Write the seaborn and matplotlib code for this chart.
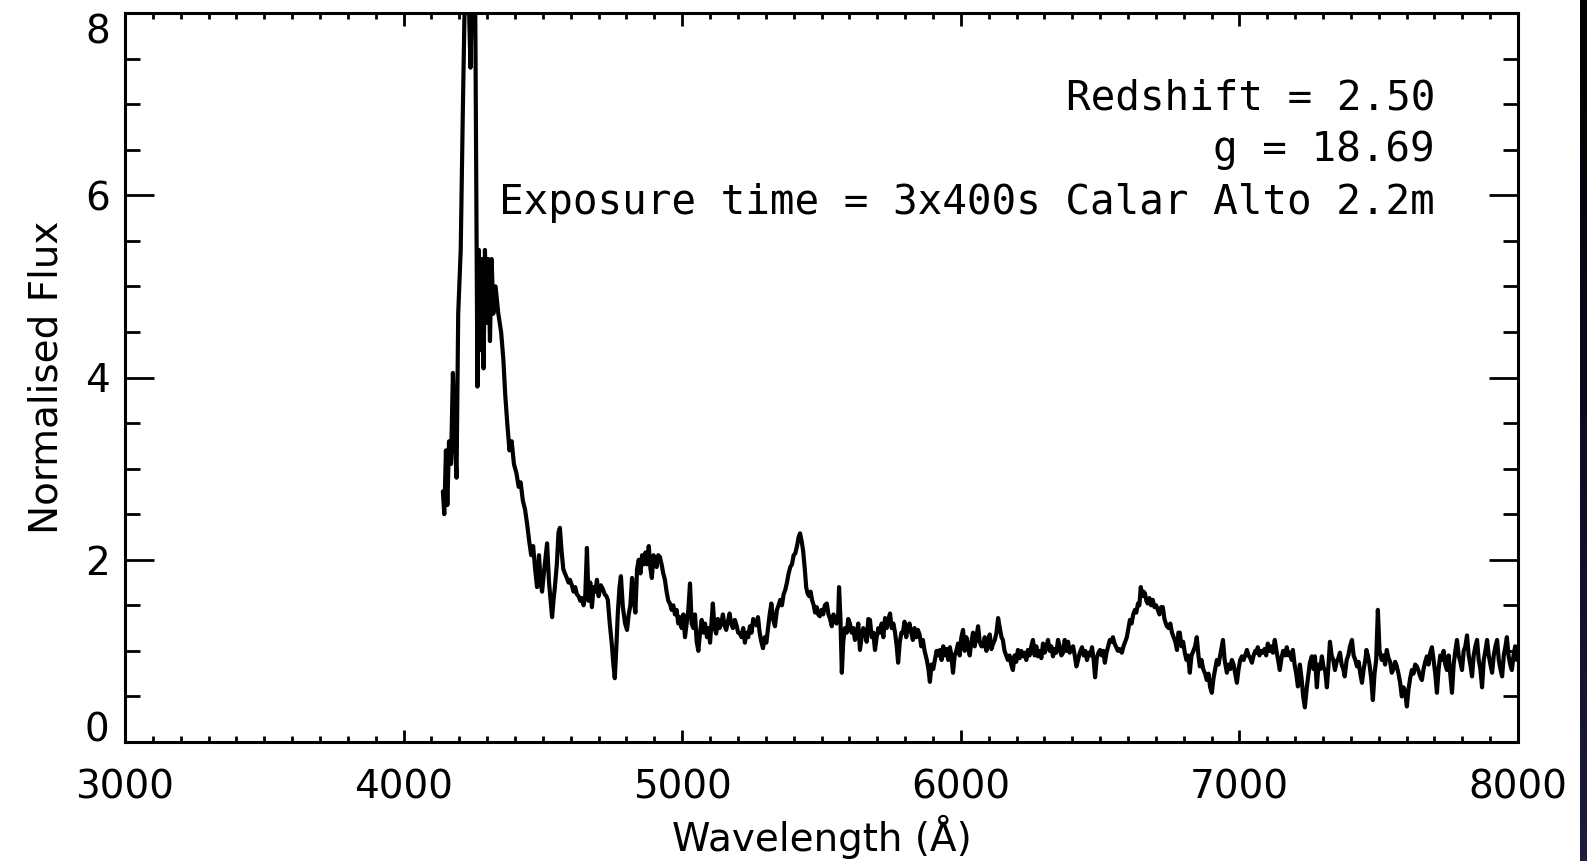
import numpy as np
import pandas as pd
import matplotlib
matplotlib.use("Agg")
import matplotlib.pyplot as plt
import seaborn as sns
from matplotlib.ticker import MultipleLocator, FixedLocator
from matplotlib.colors import LinearSegmentedColormap

# ---- Spectrum data (wavelength in Angstrom, normalised flux) ----
seg_lya = [
    (4141, 2.75), (4146, 2.50), (4152, 3.20), (4157, 2.60), (4163, 3.30), (4170, 3.05),
    (4177, 4.05), (4184, 3.30), (4190, 2.90), (4196, 4.70), (4205, 5.40), (4213, 7.00),
    (4222, 8.60), (4232, 8.40), (4240, 7.40), (4248, 8.50), (4256, 8.70), (4265, 3.90),
    (4270, 5.40), (4276, 4.30), (4281, 5.30), (4287, 4.10), (4292, 5.40), (4298, 4.60),
    (4304, 5.30), (4310, 4.40), (4316, 5.30), (4322, 4.70), (4330, 5.00), (4340, 4.70),
    (4350, 4.50), (4358, 4.20), (4365, 3.80), (4372, 3.50), (4380, 3.20), (4388, 3.30),
    (4396, 3.05), (4405, 2.95), (4413, 2.80), (4420, 2.85), (4428, 2.65), (4436, 2.55),
    (4443, 2.40), (4451, 2.20), (4458, 2.05), (4465, 2.15), (4472, 1.90), (4479, 1.70),
    (4486, 2.05), (4492, 1.75), (4497, 1.65),
]
seg_civ = [
    (4505, 1.90), (4515, 2.18), (4522, 1.75), (4528, 1.55), (4533, 1.37), (4538, 1.55),
    (4543, 1.70), (4550, 1.95), (4556, 2.30), (4561, 2.35), (4567, 2.10), (4573, 1.90),
    (4579, 1.85), (4586, 1.80), (4592, 1.75), (4597, 1.78), (4604, 1.72), (4610, 1.65),
    (4616, 1.70), (4622, 1.62), (4628, 1.60), (4634, 1.55), (4640, 1.58), (4646, 1.50),
    (4652, 1.60), (4658, 2.13), (4664, 1.55), (4670, 1.75), (4676, 1.48), (4682, 1.70),
    (4688, 1.65), (4694, 1.78), (4700, 1.60), (4708, 1.72), (4715, 1.68), (4722, 1.62),
    (4728, 1.60), (4733, 1.56), (4740, 1.30), (4748, 1.05), (4753, 0.85), (4758, 0.70),
    (4763, 1.00), (4769, 1.42), (4775, 1.70), (4780, 1.82), (4787, 1.48), (4795, 1.30),
    (4802, 1.23), (4808, 1.40), (4814, 1.50), (4820, 1.80), (4826, 1.55), (4832, 1.42),
    (4838, 1.90), (4844, 2.00), (4850, 1.85), (4856, 2.05), (4862, 1.95), (4868, 2.08),
    (4874, 1.95), (4880, 2.15), (4886, 1.90), (4891, 1.80), (4897, 2.05), (4902, 2.00),
    (4908, 1.92), (4914, 2.05), (4920, 2.03), (4926, 1.95), (4932, 1.85), (4938, 1.78),
    (4944, 1.65), (4950, 1.55), (4956, 1.52), (4962, 1.45), (4968, 1.50), (4974, 1.40),
    (4980, 1.45), (4986, 1.30), (4992, 1.37), (4998, 1.25),
]
seg_ciii = [
    (5004, 1.40), (5010, 1.15), (5016, 1.30), (5022, 1.45), (5028, 1.74), (5034, 1.30),
    (5040, 1.25), (5046, 1.40), (5052, 1.10), (5058, 1.00), (5064, 1.20), (5070, 1.34),
    (5076, 1.20), (5082, 1.30), (5089, 1.15), (5095, 1.25), (5100, 1.09), (5105, 1.30),
    (5110, 1.52), (5116, 1.25), (5122, 1.19), (5128, 1.35), (5134, 1.25), (5140, 1.30),
    (5146, 1.40), (5152, 1.28), (5158, 1.23), (5164, 1.32), (5170, 1.41), (5176, 1.30),
    (5182, 1.25), (5189, 1.34), (5195, 1.28), (5201, 1.20), (5207, 1.19), (5213, 1.15),
    (5219, 1.25), (5225, 1.09), (5231, 1.20), (5237, 1.15), (5243, 1.27), (5249, 1.20),
    (5255, 1.35), (5261, 1.30), (5267, 1.28), (5272, 1.37), (5278, 1.20), (5284, 1.10),
    (5290, 1.03), (5296, 1.15), (5302, 1.09), (5308, 1.25), (5314, 1.40), (5320, 1.52),
    (5326, 1.35), (5333, 1.27), (5340, 1.45), (5346, 1.50), (5352, 1.56), (5358, 1.50),
    (5364, 1.62), (5370, 1.67), (5376, 1.75), (5382, 1.85), (5388, 1.92), (5394, 1.95),
    (5400, 2.05), (5406, 2.07), (5412, 2.15), (5418, 2.25), (5423, 2.29), (5429, 2.20),
    (5434, 2.10), (5440, 1.90), (5445, 1.70), (5450, 1.63), (5456, 1.60), (5461, 1.65),
    (5466, 1.56), (5472, 1.50), (5477, 1.42), (5483, 1.48), (5488, 1.40), (5494, 1.38),
]
seg_mid = [
    (5500, 1.45), (5506, 1.40), (5512, 1.50), (5519, 1.52), (5525, 1.40), (5531, 1.35),
    (5537, 1.27), (5543, 1.40), (5548, 1.34), (5554, 1.30), (5560, 1.40), (5563, 1.70),
    (5568, 1.35), (5573, 0.76), (5578, 1.10), (5584, 1.25), (5591, 1.20), (5596, 1.35),
    (5602, 1.30), (5608, 1.20), (5614, 1.25), (5620, 1.12), (5626, 1.20), (5632, 1.30),
    (5638, 1.01), (5644, 1.15), (5650, 1.25), (5656, 1.20), (5662, 1.10), (5668, 1.35),
    (5674, 1.34), (5680, 1.15), (5686, 1.20), (5692, 1.01), (5698, 1.15), (5704, 1.25),
    (5710, 1.20), (5716, 1.30), (5722, 1.15), (5728, 1.36), (5734, 1.25), (5740, 1.35),
    (5746, 1.41), (5752, 1.25), (5758, 1.30), (5764, 1.20), (5770, 1.05), (5775, 0.87),
    (5781, 1.10), (5787, 1.20), (5792, 1.20), (5798, 1.32), (5804, 1.15), (5810, 1.27),
    (5816, 1.30), (5822, 1.20), (5828, 1.12), (5834, 1.25), (5840, 1.15), (5846, 1.23),
    (5852, 1.18), (5858, 1.05), (5864, 1.12), (5870, 1.00), (5878, 0.90), (5884, 0.80),
    (5889, 0.66), (5895, 0.85), (5901, 0.80), (5907, 0.90), (5913, 1.00), (5919, 0.95),
    (5925, 1.01), (5931, 0.90), (5937, 1.05), (5943, 0.95), (5949, 1.02), (5955, 0.90),
    (5961, 1.04), (5966, 0.95), (5972, 0.76), (5978, 0.95), (5984, 1.00), (5990, 1.08),
    (5996, 0.95),
]
seg_cont = [
    (6002, 1.15), (6008, 1.23), (6014, 1.00), (6020, 1.15), (6026, 1.05), (6032, 0.95),
    (6038, 1.10), (6044, 1.20), (6050, 1.05), (6056, 1.15), (6062, 1.27), (6068, 1.10),
    (6074, 1.05), (6080, 1.05), (6086, 1.15), (6092, 1.00), (6098, 1.12), (6104, 1.18),
    (6110, 1.02), (6116, 1.08), (6122, 1.12), (6128, 1.20), (6134, 1.36), (6140, 1.25),
    (6146, 1.15), (6151, 1.12), (6157, 1.00), (6163, 0.95), (6169, 0.90), (6175, 0.95),
    (6181, 0.85), (6187, 0.79), (6193, 0.95), (6199, 0.88), (6205, 1.01), (6211, 0.92),
    (6217, 1.00), (6223, 0.94), (6229, 0.98), (6235, 0.90), (6241, 1.01), (6247, 0.95),
    (6253, 1.05), (6259, 1.12), (6265, 0.95), (6271, 1.05), (6277, 0.94), (6283, 1.00),
    (6289, 0.92), (6295, 1.08), (6301, 0.98), (6307, 1.05), (6313, 1.12), (6319, 1.00),
    (6325, 1.05), (6331, 0.94), (6337, 1.02), (6343, 0.98), (6349, 1.12), (6355, 1.05),
    (6361, 0.95), (6367, 0.98), (6373, 1.12), (6379, 1.00), (6385, 1.10), (6391, 0.98),
    (6397, 1.02), (6403, 1.05), (6409, 0.95), (6415, 0.83), (6421, 0.90), (6427, 0.98),
    (6435, 1.04), (6441, 0.95), (6447, 1.00), (6453, 0.90), (6459, 0.98), (6465, 0.95),
    (6471, 1.04), (6477, 0.90), (6482, 0.71), (6488, 0.92), (6494, 0.98),
]
seg_mgii = [
    (6500, 1.01), (6506, 0.95), (6512, 1.00), (6517, 0.87), (6523, 0.98), (6529, 1.05),
    (6535, 1.12), (6541, 1.10), (6546, 1.15), (6552, 1.08), (6558, 1.04), (6564, 1.00),
    (6570, 1.02), (6578, 0.98), (6584, 1.05), (6590, 1.10), (6596, 1.15), (6602, 1.25),
    (6607, 1.34), (6613, 1.30), (6619, 1.40), (6625, 1.45), (6630, 1.42), (6636, 1.52),
    (6641, 1.50), (6646, 1.70), (6651, 1.60), (6656, 1.65), (6661, 1.63), (6666, 1.55),
    (6671, 1.52), (6677, 1.58), (6683, 1.50), (6689, 1.56), (6695, 1.48), (6701, 1.50),
    (6707, 1.45), (6713, 1.40), (6719, 1.48), (6725, 1.48), (6731, 1.35), (6736, 1.30),
    (6740, 1.27), (6746, 1.25), (6752, 1.30), (6758, 1.20), (6764, 1.15), (6770, 1.10),
    (6776, 1.01), (6781, 1.20), (6786, 1.20), (6792, 1.05), (6798, 1.10), (6804, 0.98),
    (6810, 0.90), (6816, 0.95), (6822, 0.76), (6828, 0.95), (6835, 1.00), (6841, 1.05),
    (6847, 1.15), (6853, 0.95), (6858, 0.83), (6864, 0.90), (6870, 0.80), (6877, 0.75),
    (6883, 0.68), (6889, 0.75), (6895, 0.60), (6901, 0.54), (6907, 0.70), (6913, 0.80),
    (6919, 0.90), (6925, 0.85), (6931, 0.95), (6937, 1.05), (6941, 1.12), (6947, 0.90),
    (6955, 0.76), (6961, 0.85), (6967, 0.80), (6973, 0.90), (6979, 0.85), (6985, 0.75),
    (6991, 0.65), (6997, 0.80),
]
seg_red1 = [
    (7003, 0.90), (7009, 0.94), (7015, 0.90), (7021, 0.95), (7027, 1.01), (7033, 0.95),
    (7039, 0.92), (7045, 0.87), (7051, 0.95), (7057, 1.00), (7062, 0.98), (7066, 1.04),
    (7072, 0.95), (7078, 1.00), (7084, 0.98), (7090, 1.02), (7096, 0.95), (7102, 1.08),
    (7108, 1.00), (7114, 1.05), (7120, 0.98), (7127, 1.12), (7133, 1.00), (7139, 0.90),
    (7145, 0.79), (7151, 0.92), (7157, 1.00), (7164, 0.95), (7170, 1.04), (7176, 0.95),
    (7182, 0.98), (7188, 0.90), (7192, 1.01), (7198, 0.85), (7204, 0.75), (7210, 0.61),
    (7217, 0.85), (7223, 0.70), (7229, 0.50), (7235, 0.38), (7242, 0.60), (7248, 0.75),
    (7253, 0.87), (7260, 0.94), (7266, 0.80), (7271, 0.94), (7278, 0.60), (7284, 0.85),
    (7290, 0.80), (7296, 0.94), (7302, 0.82), (7308, 0.78), (7314, 0.60), (7320, 0.85),
    (7325, 1.10), (7331, 0.95), (7337, 0.90), (7343, 0.79), (7349, 0.88), (7355, 0.92),
    (7361, 0.98), (7367, 0.85), (7373, 0.80), (7378, 0.72), (7385, 0.90), (7391, 0.95),
    (7397, 1.05), (7404, 1.12), (7410, 0.95), (7416, 0.90), (7422, 0.83), (7428, 0.88),
    (7434, 0.75), (7440, 0.65), (7446, 0.80), (7452, 0.90), (7456, 1.01), (7461, 0.95),
    (7467, 0.85), (7473, 0.70), (7479, 0.46), (7485, 0.75), (7491, 0.90),
]
seg_red2 = [
    (7497, 1.45), (7503, 1.00), (7511, 0.90), (7517, 0.95), (7523, 0.85), (7529, 1.01),
    (7535, 0.92), (7541, 0.88), (7547, 0.76), (7553, 0.80), (7559, 0.88), (7565, 0.83),
    (7571, 0.75), (7577, 0.65), (7583, 0.50), (7589, 0.60), (7595, 0.55), (7601, 0.39),
    (7607, 0.58), (7613, 0.70), (7619, 0.79), (7625, 0.75), (7631, 0.85), (7637, 0.83),
    (7643, 0.78), (7649, 0.72), (7655, 0.68), (7661, 0.80), (7667, 0.88), (7673, 0.94),
    (7679, 0.85), (7685, 0.98), (7691, 1.04), (7697, 0.90), (7703, 0.75), (7709, 0.54),
    (7715, 0.80), (7721, 0.95), (7727, 0.90), (7733, 1.00), (7739, 0.85), (7745, 0.79),
    (7751, 0.95), (7757, 0.75), (7763, 0.54), (7769, 0.85), (7775, 1.00), (7781, 1.12),
    (7787, 0.95), (7793, 0.88), (7799, 0.79), (7805, 1.00), (7811, 1.05), (7817, 1.17),
    (7823, 0.95), (7829, 0.85), (7835, 0.72), (7841, 0.95), (7847, 1.05), (7853, 1.12),
    (7859, 0.90), (7865, 0.80), (7871, 0.60), (7877, 0.90), (7883, 1.00), (7889, 1.12),
    (7895, 0.95), (7901, 0.85), (7907, 0.76), (7913, 0.95), (7919, 1.05), (7925, 1.12),
    (7931, 0.90), (7937, 0.80), (7943, 0.72), (7949, 0.95), (7955, 1.05), (7960, 1.15),
    (7966, 0.95), (7972, 0.85), (7978, 0.79), (7984, 0.95), (7990, 1.05), (7996, 0.90),
    (8000, 1.00),
]

x_ticks = [3000, 4000, 5000, 6000, 7000, 8000]
y_ticks = [0, 2, 4, 6, 8]
annotation_lines = ["Redshift = 2.50", "g = 18.69", "Exposure time = 3x400s Calar Alto 2.2m"]
x_label = "Wavelength (Å)"
y_label = "Normalised Flux"

segments = seg_lya + seg_civ + seg_ciii + seg_mid + seg_cont + seg_mgii + seg_red1 + seg_red2
df = pd.DataFrame(segments, columns=["wavelength", "flux"])

# ---- Figure ----
sns.set_theme(style="ticks")
plt.rcParams["font.family"] = ["DejaVu Sans"]

W, H = 1587, 861
fig = plt.figure(figsize=(W / 100, H / 100), dpi=100, facecolor="white")
ax = fig.add_axes([125 / W, 1 - 742 / H, (1518 - 125) / W, (742 - 13) / H])
ax.set_facecolor("white")

sns.lineplot(data=df, x="wavelength", y="flux", ax=ax, color="black",
             linewidth=3.0, estimator=None, sort=False)

ax.set_xlim(3000, 8000)
ax.set_ylim(0, 8)
ax.xaxis.set_major_locator(FixedLocator(x_ticks))
ax.xaxis.set_minor_locator(MultipleLocator(100))
ax.yaxis.set_major_locator(FixedLocator(y_ticks))
ax.yaxis.set_minor_locator(MultipleLocator(0.5))

fs = 28
ax.tick_params(axis="both", which="both", direction="in", top=True, right=True,
               color="black", width=2.0, labelsize=fs, labelcolor="black")
ax.tick_params(axis="x", which="major", length=9, pad=19)
ax.tick_params(axis="x", which="minor", length=4.5)
ax.tick_params(axis="y", which="major", length=21, pad=11)
ax.tick_params(axis="y", which="minor", length=10.5)
for sp in ax.spines.values():
    sp.set_linewidth(2.2)
    sp.set_color("black")

ax.set_xticklabels([str(t) for t in x_ticks])
ax.set_yticklabels([str(t) for t in y_ticks])
ylabels = ax.get_yticklabels()
ylabels[0].set_va("baseline")
ylabels[-1].set_va("top")

ax.set_xlabel(x_label, fontsize=fs, color="black", labelpad=6)
ax.set_ylabel(y_label, fontsize=fs, color="black", labelpad=14)

ys = [99, 150, 203]
for line, yp in zip(annotation_lines, ys):
    fig.text(1435 / W, 1 - yp / H, line, ha="right", va="center", fontsize=29.5,
             color="black", family=["DejaVu Sans Mono", "DejaVu Sans"])

# dark strip at the right edge of the image
strip = fig.add_axes([1580 / W, 0, 7 / W, 1])
grad = np.linspace(0, 1, 256).reshape(-1, 1)
cmap = LinearSegmentedColormap.from_list("strip", ["#000000", "#0c0c22", "#1a1c40"])
strip.imshow(grad, aspect="auto", cmap=cmap, extent=[0, 1, 1, 0])
strip.set_axis_off()

fig.savefig("out.png", dpi=100, facecolor="white")
